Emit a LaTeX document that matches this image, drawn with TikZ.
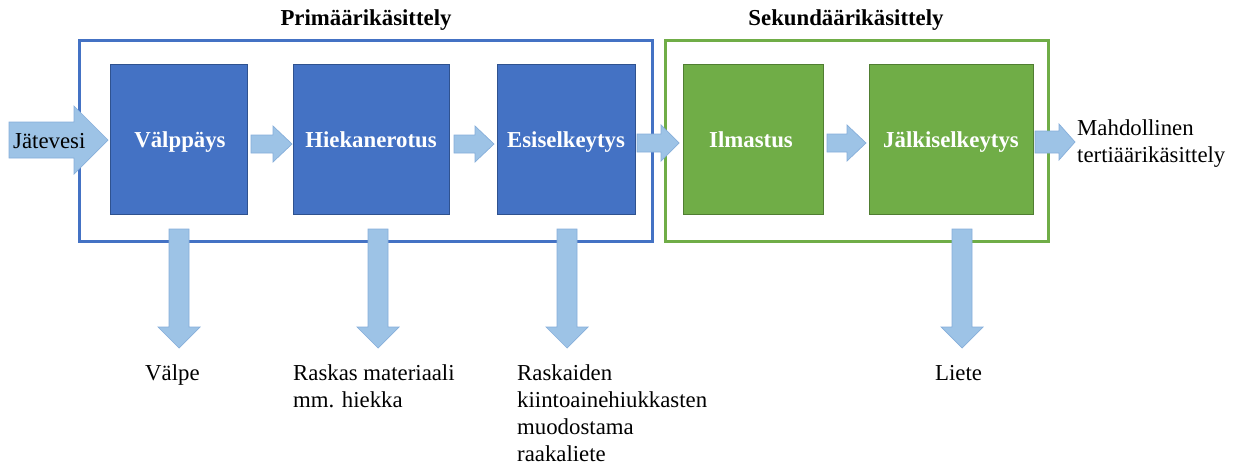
\documentclass[tikz,border=0pt]{standalone}
\usepackage{fontspec}
\setmainfont{Liberation Serif}
\definecolor{bluefill}{HTML}{4472C4}
\definecolor{blueedge}{HTML}{2F528F}
\definecolor{greenfill}{HTML}{70AD47}
\definecolor{greenedge}{HTML}{507E32}
\definecolor{arrfill}{HTML}{9DC3E6}
\definecolor{arredge}{HTML}{86AEDA}
\tikzset{
  frameblue/.style={draw=bluefill, line width=3pt},
  framegreen/.style={draw=greenfill, line width=3pt},
  bluebox/.style={fill=bluefill, draw=blueedge, line width=0.8pt},
  greenbox/.style={fill=greenfill, draw=greenedge, line width=0.8pt},
  blockarrow/.style={fill=arrfill, draw=arredge, line width=0.7pt},
  boxlabel/.style={text=white, font=\fontsize{22.8}{27}\selectfont\bfseries, inner sep=0pt, anchor=base},
  title/.style={font=\fontsize{22.8}{27}\selectfont\bfseries, inner sep=0pt, anchor=base},
  plain/.style={font=\fontsize{22.8}{27}\selectfont, inner sep=0pt, anchor=base west},
}
% horizontal block arrow: x1, xtip, ycentre, shaft half, head half, head length
\newcommand\harr[6]{%
  \filldraw[blockarrow] (#1,#3-#4) -- (#2-#6,#3-#4) -- (#2-#6,#3-#5) -- (#2,#3)
    -- (#2-#6,#3+#5) -- (#2-#6,#3+#4) -- (#1,#3+#4) -- cycle;}
% vertical block arrow: xcentre, ytop, ytip, shaft half, head half, head length
\newcommand\varr[6]{%
  \filldraw[blockarrow] (#1-#4,#2) -- (#1+#4,#2) -- (#1+#4,#3-#6) -- (#1+#5,#3-#6)
    -- (#1,#3) -- (#1-#5,#3-#6) -- (#1-#4,#3-#6) -- cycle;}
\begin{document}
\begin{tikzpicture}[x=1pt,y=-1pt]
\useasboundingbox (0,0) rectangle (1238,466);
% frames
\draw[frameblue] (79,40) rectangle (652,241);
\draw[framegreen] (665,40) rectangle (1048,241);
\node[title] (tp) at (366,25) {Primäärikäsittely};
\node[title] (ts) at (846,25) {Sekundäärikäsittely};
% boxes
\draw[bluebox] (110,64) rectangle (247,214);
\draw[bluebox] (293,64) rectangle (449,214);
\draw[bluebox] (497,64) rectangle (635,214);
\draw[greenbox] (683,64) rectangle (823,214);
\draw[greenbox] (869,64) rectangle (1033,214);
\node[boxlabel] (v) at (180,147) {Välppäys};
\node[boxlabel] (h) at (371,147) {Hiekanerotus};
\node[boxlabel] (e) at (566,147) {Esiselkeytys};
\node[boxlabel] (i) at (751,147) {Ilmastus};
\node[boxlabel] (j) at (951,147) {Jälkiselkeytys};
% horizontal arrows
\harr{9}{108}{140}{18}{34}{34}
\harr{251}{292}{144}{9}{18}{19}
\harr{454}{494}{144}{9}{18}{19}
\harr{637}{679}{143}{9}{18}{18}
\harr{827}{866}{143}{9}{18}{19}
\harr{1035}{1075}{142}{11}{18}{16}
\node[plain] (jv) at (13,148) {Jätevesi};
% vertical arrows
\varr{179}{229}{348}{10}{21}{21}
\varr{378}{229}{348}{10}{21}{21}
\varr{567}{229}{348}{10}{21}{21}
\varr{962}{229}{348}{10}{21}{21}
% output labels
\node[plain] (o1) at (145,380) {Välpe};
\node[plain] (o2a) at (293,380) {Raskas materiaali};
\node[plain] (o2b) at (293,407) {mm. hiekka};
\node[plain] (o3a) at (517,380) {Raskaiden};
\node[plain] (o3b) at (517,407) {kiintoainehiukkasten};
\node[plain] (o3c) at (517,434) {muodostama};
\node[plain] (o3d) at (517,461) {raakaliete};
\node[plain] (o4) at (935,380) {Liete};
\node[plain] (t1) at (1077,135) {Mahdollinen};
\node[plain] (t2) at (1077,162) {tertiäärikäsittely};
\end{tikzpicture}
\end{document}
